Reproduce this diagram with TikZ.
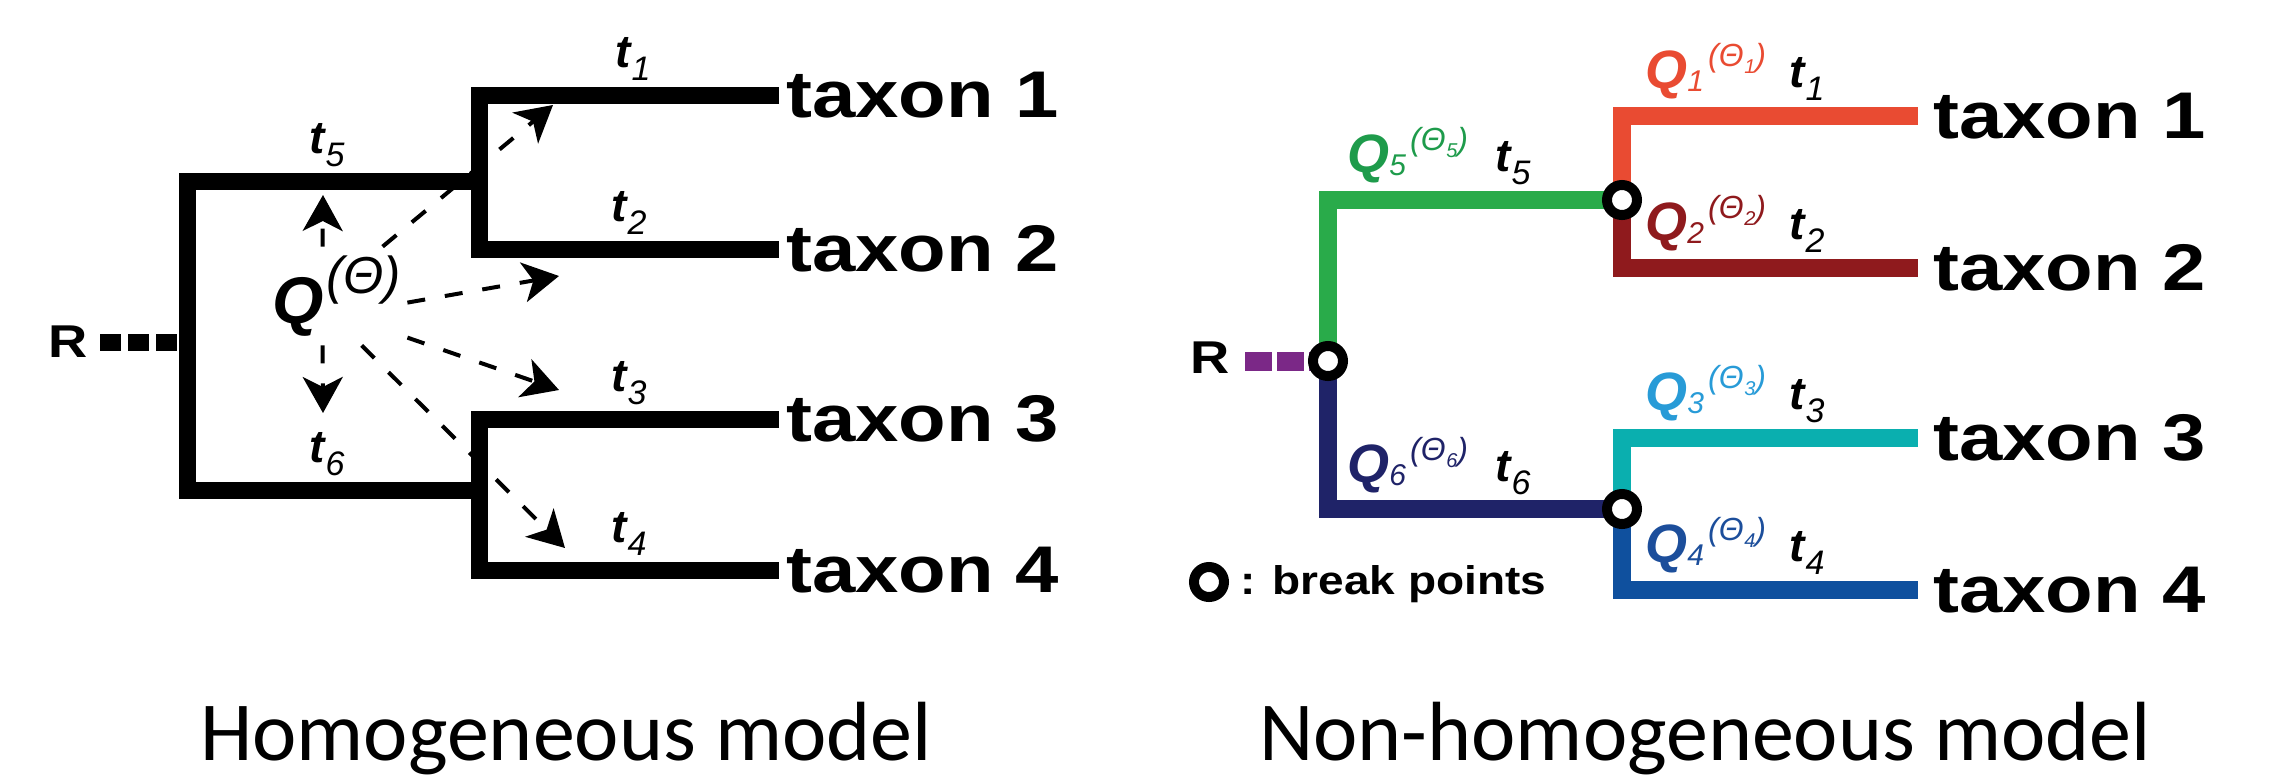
\documentclass[tikz,border=0pt]{standalone}
\usepackage{fontspec}
\setmainfont{Liberation Sans}
\newfontfamily\calib{Carlito}
\usetikzlibrary{arrows.meta}
\definecolor{cred}{RGB}{233,75,50}
\definecolor{cdred}{RGB}{143,26,29}
\definecolor{cgreen}{RGB}{41,171,74}
\definecolor{cgreentext}{RGB}{30,155,75}
\definecolor{cnavy}{RGB}{31,35,104}
\definecolor{cteal}{RGB}{10,175,175}
\definecolor{clblue}{RGB}{40,155,215}
\definecolor{cblue}{RGB}{15,80,158}
\definecolor{cbluetext}{RGB}{28,78,155}
\definecolor{cpurple}{RGB}{123,40,135}
\newcommand{\hs}[1]{\scalebox{1.18}[1]{#1}}
\newcommand{\tlab}[1]{{\fontsize{23}{23}\selectfont\bfseries\itshape t}\kern0.5pt\raisebox{-6.5pt}{\fontsize{17}{17}\selectfont\itshape #1}}
\newcommand{\qlab}[1]{{\fontsize{27}{27}\selectfont\bfseries\itshape Q}\raisebox{-1.5pt}{\fontsize{15}{15}\selectfont\itshape #1}\kern2pt\raisebox{11pt}{\fontsize{16}{16}\selectfont\itshape (Θ\kern0.3pt\raisebox{-3.5pt}{\fontsize{10}{10}\selectfont #1})}}
\begin{document}
\begin{tikzpicture}[x=0.5pt,y=-0.5pt,
  branch/.style={line width=8.5pt,line join=miter,line cap=butt},
  rbranch/.style={line width=9pt,line join=miter,line cap=butt},
  taxon/.style={anchor=west,inner ysep=0pt,inner xsep=3.5pt,font=\fontsize{33}{33}\selectfont\bfseries},
  lbl/.style={anchor=base west,inner sep=0pt},
  brk/.style={circle,draw=black,line width=5pt,fill=white,minimum size=15pt,inner sep=0pt},
  qarrow/.style={line width=2pt,dash pattern=on 9pt off 10pt,-{Stealth[length=18pt,width=20pt,inset=5pt]}},
  title/.style={anchor=base,font=\calib\fontsize{42}{42}\selectfont}]
\useasboundingbox (0,0) rectangle (2276,777);

% ---------------- left tree (homogeneous) ----------------
\node[taxon] (Lt1) at (779,95) {\hs{taxon 1}};
\node[taxon] (Lt2) at (779,249) {\hs{taxon 2}};
\node[taxon] (Lt3) at (779,419) {\hs{taxon 3}};
\node[taxon] (Lt4) at (779,570) {\hs{taxon 4}};
\coordinate (L5) at (479,181);
\coordinate (L6) at (479,490);
\coordinate (Lroot) at (187,342);
\node[inner ysep=0pt,inner xsep=6pt,font=\fontsize{23}{23}\selectfont\bfseries] (LR) at (68,342) {\hs{R}};

% Q(Theta) box and dashed arrows
\node[fill=white,inner sep=0pt,minimum width=70pt,minimum height=49pt] (Q) at (337,296)
  {{\fontsize{33}{33}\selectfont\bfseries\itshape Q}\kern1pt\raisebox{15pt}{\fontsize{26}{26}\selectfont\itshape(Θ)}};
\coordinate (aUp) at (323,195);
\coordinate (aUR) at (553,105);
\coordinate (aR) at (559,276);
\coordinate (aLR) at (559,390);
\coordinate (aDn) at (323,413);
\coordinate (aLLR) at (565,548);
\draw[qarrow] ([xshift=28pt]Q.north west) -- (aUp);
\draw[qarrow] ([xshift=58pt]Q.north west) -- (aUR);
\draw[qarrow] ([yshift=-28pt]Q.north east) -- (aR);
\draw[qarrow] ([yshift=-45.5pt]Q.north east) -- (aLR);
\draw[qarrow] ([xshift=28pt]Q.south west) -- (aDn);
\draw[qarrow] ([xshift=47.5pt]Q.south west) -- (aLLR);

\draw[branch] (Lt1.west) -| (L5) |- (Lt2.west);
\draw[branch] (L5) -| (Lroot) |- (L6);
\draw[branch] (Lt3.west) -| (L6) |- (Lt4.west);
\draw[line width=8.5pt,dash pattern=on 10.5pt off 3.5pt] (LR.east |- Lroot) -- (Lroot);

\node[lbl] (Lb1) at (615,67) {\tlab{1}};
\node[lbl] (Lb2) at (611,221) {\tlab{2}};
\node[lbl] (Lb3) at (611,391) {\tlab{3}};
\node[lbl] (Lb4) at (611,542) {\tlab{4}};
\node[lbl] (Lb5) at (309,153) {\tlab{5}};
\node[lbl] (Lb6) at (309,462) {\tlab{6}};

% ---------------- right tree (non-homogeneous) ----------------
\node[taxon,inner xsep=7.5pt] (Rt1) at (1918,116) {\hs{taxon 1}};
\node[taxon,inner xsep=7.5pt] (Rt2) at (1918,268) {\hs{taxon 2}};
\node[taxon,inner xsep=7.5pt] (Rt3) at (1918,438) {\hs{taxon 3}};
\node[taxon,inner xsep=7.5pt] (Rt4) at (1918,590) {\hs{taxon 4}};
\coordinate (Rroot) at (1328,361);
\coordinate (R5) at (1622,200);
\coordinate (R6) at (1622,509);
\node[inner ysep=0pt,inner xsep=7.5pt,font=\fontsize{23}{23}\selectfont\bfseries] (RR) at (1210,358) {\hs{R}};

\draw[rbranch,cgreen] (R5) -| (Rroot);
\draw[rbranch,cnavy] (Rroot) |- (R6);
\draw[rbranch,cred] (R5) |- (Rt1.west);
\draw[rbranch,cdred] (R5) |- (Rt2.west);
\draw[rbranch,cteal] (R6) |- (Rt3.west);
\draw[rbranch,cblue] (R6) |- (Rt4.west);
\draw[line width=9.5pt,cpurple,dash pattern=on 13.5pt off 2.5pt] (RR.east |- Rroot) -- (Rroot);

\node[brk] (b0) at (Rroot) {};
\node[brk] (b5) at (R5) {};
\node[brk] (b6) at (R6) {};

\node[lbl,text=cred] (q1) at (1645,88) {\qlab{1}};
\node[lbl] (r1) at (1789,87) {\tlab{1}};
\node[lbl,text=cdred] (q2) at (1645,240) {\qlab{2}};
\node[lbl] (r2) at (1789,239) {\tlab{2}};
\node[lbl,text=clblue] (q3) at (1645,410) {\qlab{3}};
\node[lbl] (r3) at (1789,409) {\tlab{3}};
\node[lbl,text=cbluetext] (q4) at (1645,562) {\qlab{4}};
\node[lbl] (r4) at (1789,561) {\tlab{4}};
\node[lbl,text=cgreentext] (q5) at (1347,172) {\qlab{5}};
\node[lbl] (r5) at (1495,171) {\tlab{5}};
\node[lbl,text=cnavy] (q6) at (1347,482) {\qlab{6}};
\node[lbl] (r6) at (1495,481) {\tlab{6}};

% legend
\node[brk] (lg) at (1209,582) {};
\node[lbl,font=\fontsize{20}{20}\selectfont\bfseries] (lgt) at (1240,594) {\scalebox{1.15}[1]{: break points}};

% titles
\node[title] (T1) at (566,760) {Homogeneous model};
\node[title] (T2) at (1705,760) {Non-homogeneous model};
\end{tikzpicture}
\end{document}
